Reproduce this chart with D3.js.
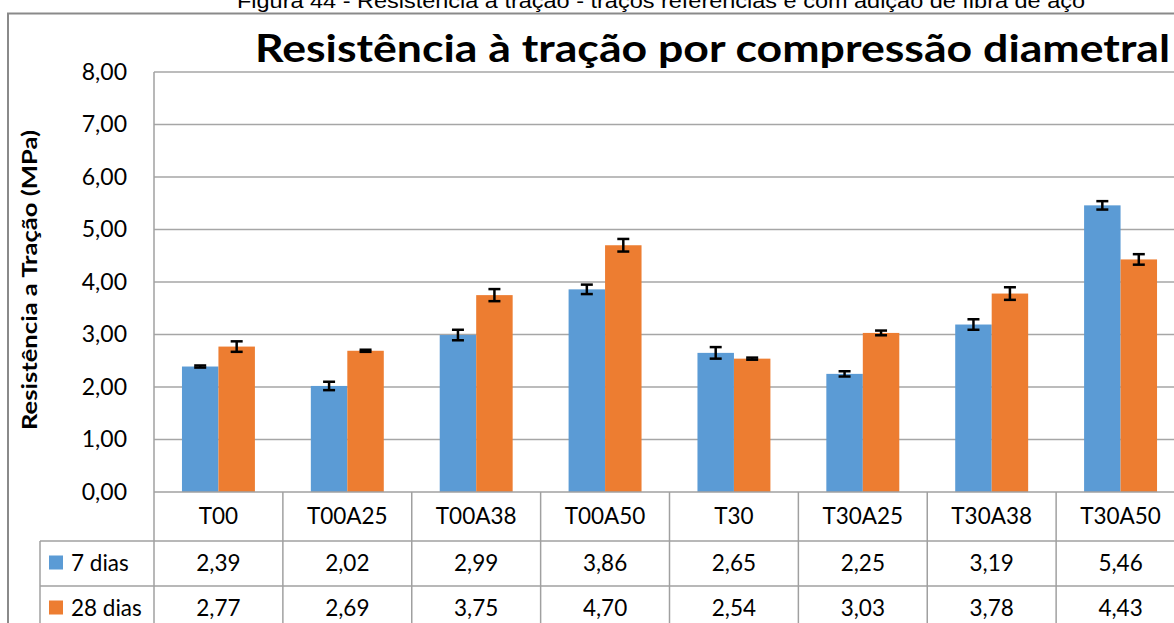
<!DOCTYPE html>
<html>
<head>
<meta charset="utf-8">
<script src="https://cdn.jsdelivr.net/npm/d3@7"></script>
<style>
  html, body { margin: 0; padding: 0; background: #fff; overflow: hidden; }
  svg { display: block; }
</style>
</head>
<body>
<svg id="chart" width="1174" height="623"></svg>
<script>
// Tensile strength by diametral compression, 7 and 28 days
const categories = ["T00", "T00A25", "T00A38", "T00A50", "T30", "T30A25", "T30A38", "T30A50"];
const seriesNames = ["7 dias", "28 dias"];
const values7 = [2.39, 2.02, 2.99, 3.86, 2.65, 2.25, 3.19, 5.46];
const values28 = [2.77, 2.69, 3.75, 4.70, 2.54, 3.03, 3.78, 4.43];
const errors7 = [0.02, 0.08, 0.10, 0.09, 0.11, 0.05, 0.10, 0.08];
const errors28 = [0.10, 0.02, 0.115, 0.12, 0.02, 0.045, 0.12, 0.10];
const yTicks = [0, 1, 2, 3, 4, 5, 6, 7, 8];
const colors = ["#5B9BD5", "#ED7D31"];

const caption = "Figura 44 - Resistência à tração - traços referências e com adição de fibra de aço";
const title = "Resistência à tração por compressão diametral";
const yTitle = "Resistência a Tração (MPa)";

const fmt = v => d3.format(".2f")(v).replace(".", ",");
const FONT = "Lato, 'Open Sans', sans-serif";

const svg = d3.select("#chart");

const plot = { left: 154, right: 1185, top: 72, bottom: 492 };
const tableLeft = 40;
const rowBottoms = [541, 586, 631];

const x0 = d3.scaleBand().domain(categories).range([plot.left, plot.right])
  .paddingInner(0.434).paddingOuter(0.217);
const x1 = d3.scaleBand().domain(seriesNames).range([0, x0.bandwidth()]);
const y = d3.scaleLinear().domain([0, 8]).range([plot.bottom, plot.top]);

// caption above the frame
svg.append("text")
  .attr("x", 237).attr("y", 7.5)
  .attr("font-family", "'Liberation Sans', Arial, sans-serif")
  .attr("font-size", 20)
  .attr("textLength", 848).attr("lengthAdjust", "spacingAndGlyphs")
  .attr("fill", "#000")
  .text(caption);

// chart frame
svg.append("rect")
  .attr("x", 8).attr("y", 13.5).attr("width", 1200).attr("height", 700)
  .attr("fill", "none").attr("stroke", "#8a8a8a").attr("stroke-width", 2);

// title
svg.append("text")
  .attr("x", 255).attr("y", 62)
  .attr("font-family", FONT).attr("font-weight", 700)
  .attr("font-size", 38)
  .attr("textLength", 915).attr("lengthAdjust", "spacingAndGlyphs")
  .attr("fill", "#000")
  .text(title);

// gridlines
svg.append("g")
  .selectAll("line").data(yTicks.slice(1)).join("line")
  .attr("x1", plot.left).attr("x2", plot.right)
  .attr("y1", d => y(d)).attr("y2", d => y(d))
  .attr("stroke", "#a6a6a6").attr("stroke-width", 1.5);

// y axis labels
const yAxis = d3.axisLeft(y).tickValues(yTicks).tickFormat(fmt).tickSize(0).tickPadding(27);
const yg = svg.append("g").attr("transform", `translate(${plot.left},0)`).call(yAxis);
yg.select(".domain").remove();
yg.selectAll("text")
  .attr("font-family", FONT).attr("font-size", 23).attr("fill", "#000");

// y title
svg.append("text")
  .attr("transform", `translate(37,280) rotate(-90)`)
  .attr("text-anchor", "middle")
  .attr("font-family", FONT).attr("font-weight", 700).attr("font-size", 20)
  .attr("textLength", 300).attr("lengthAdjust", "spacingAndGlyphs")
  .attr("fill", "#000")
  .text(yTitle);

// bars
const rows = categories.map((c, i) => ({
  cat: c,
  items: [
    { s: seriesNames[0], v: values7[i], e: errors7[i], k: 0 },
    { s: seriesNames[1], v: values28[i], e: errors28[i], k: 1 }
  ]
}));

const groups = svg.append("g").selectAll("g").data(rows).join("g")
  .attr("transform", d => `translate(${x0(d.cat)},0)`);

groups.selectAll("rect").data(d => d.items).join("rect")
  .attr("x", d => x1(d.s)).attr("width", x1.bandwidth())
  .attr("y", d => y(d.v)).attr("height", d => y(0) - y(d.v))
  .attr("fill", d => colors[d.k]);

// error bars
const capHalf = 6;
const eb = groups.selectAll("g.err").data(d => d.items).join("g").attr("class", "err");
eb.append("line")
  .attr("x1", d => x1(d.s) + x1.bandwidth() / 2).attr("x2", d => x1(d.s) + x1.bandwidth() / 2)
  .attr("y1", d => y(d.v + d.e)).attr("y2", d => y(d.v - d.e))
  .attr("stroke", "#000").attr("stroke-width", 2.5);
eb.append("line")
  .attr("x1", d => x1(d.s) + x1.bandwidth() / 2 - capHalf).attr("x2", d => x1(d.s) + x1.bandwidth() / 2 + capHalf)
  .attr("y1", d => y(d.v + d.e)).attr("y2", d => y(d.v + d.e))
  .attr("stroke", "#000").attr("stroke-width", 2.5);
eb.append("line")
  .attr("x1", d => x1(d.s) + x1.bandwidth() / 2 - capHalf).attr("x2", d => x1(d.s) + x1.bandwidth() / 2 + capHalf)
  .attr("y1", d => y(d.v - d.e)).attr("y2", d => y(d.v - d.e))
  .attr("stroke", "#000").attr("stroke-width", 2.5);

// data table grid
const tbl = svg.append("g").attr("stroke", "#a0a0a0").attr("stroke-width", 1.5);
tbl.append("line").attr("x1", plot.left).attr("x2", plot.right).attr("y1", plot.bottom).attr("y2", plot.bottom);
tbl.selectAll("line.h").data(rowBottoms.slice(0, 2)).join("line").attr("class", "h")
  .attr("x1", tableLeft).attr("x2", plot.right).attr("y1", d => d).attr("y2", d => d);
const step = x0.step();
const bounds = d3.range(categories.length + 1).map(i => plot.left + i * step);
tbl.selectAll("line.v").data(bounds).join("line").attr("class", "v")
  .attr("x1", d => d).attr("x2", d => d)
  .attr("y1", (d, i) => i === 0 ? plot.top : plot.bottom).attr("y2", 640);
tbl.append("line").attr("x1", tableLeft).attr("x2", tableLeft).attr("y1", rowBottoms[0]).attr("y2", 640);

const center = c => x0(c) + x0.bandwidth() / 2;

// category row
svg.append("g").selectAll("text").data(categories).join("text")
  .attr("x", d => center(d)).attr("y", (plot.bottom + rowBottoms[0]) / 2)
  .attr("dy", "0.35em").attr("text-anchor", "middle")
  .attr("font-family", FONT).attr("font-size", 22.5).attr("fill", "#000")
  .text(d => d);

// value rows
[values7, values28].forEach((vals, k) => {
  const top = k === 0 ? rowBottoms[0] : rowBottoms[1];
  const bottom = rowBottoms[k + 1];
  const cy = (top + bottom) / 2;
  svg.append("g").selectAll("text").data(vals).join("text")
    .attr("x", (d, i) => center(categories[i])).attr("y", cy)
    .attr("dy", "0.35em").attr("text-anchor", "middle")
    .attr("font-family", FONT).attr("font-size", 22.5).attr("fill", "#000")
    .text(d => fmt(d));
  svg.append("rect")
    .attr("x", 49).attr("y", cy - 8).attr("width", 14).attr("height", 14)
    .attr("fill", colors[k]);
  svg.append("text")
    .attr("x", 71).attr("y", cy).attr("dy", "0.35em")
    .attr("font-family", FONT).attr("font-size", 22.5).attr("fill", "#000")
    .text(seriesNames[k]);
});
</script>
</body>
</html>
